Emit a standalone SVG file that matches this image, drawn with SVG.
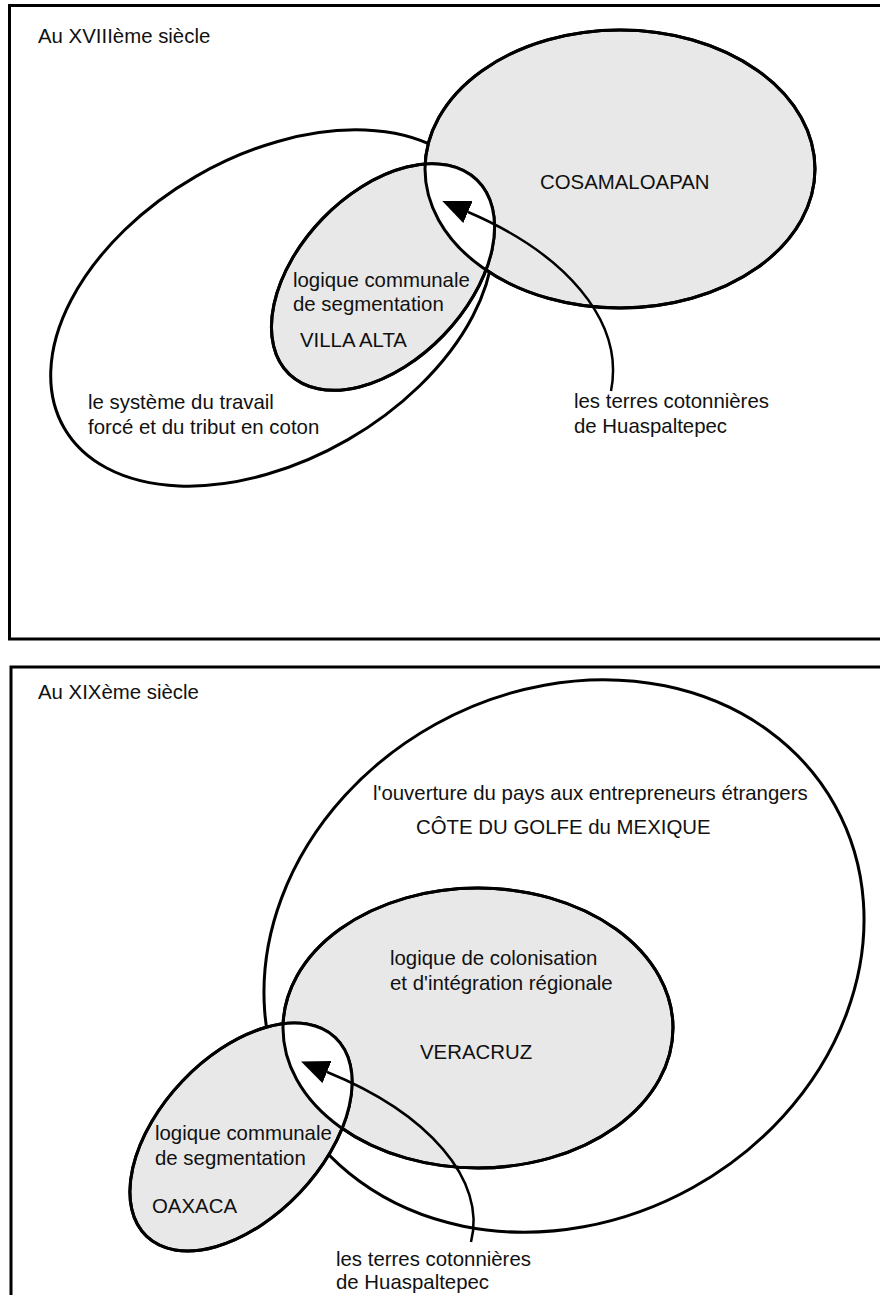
<svg xmlns="http://www.w3.org/2000/svg" xmlns:xlink="http://www.w3.org/1999/xlink" width="880" height="1295" viewBox="0 0 880 1295">
<style>
.frame{fill:#fff;stroke:#000;stroke-width:3}
.gray{fill:#e8e8e8;stroke:#000;stroke-width:3}
.out{fill:none;stroke:#000;stroke-width:3}
.lens{fill:#fff;stroke:none}
.conn{fill:none;stroke:#000;stroke-width:2.5}
text{font-family:"Liberation Sans",Arial,Helvetica,sans-serif;font-size:20.4px;fill:#111}
</style>
<defs>
<marker id="arrow" markerUnits="userSpaceOnUse" markerWidth="28" markerHeight="24" viewBox="0 0 28 24" refX="0" refY="12" orient="auto">
<path d="M0,0 L28,12 L0,24 Z" fill="#000"/>
</marker>
<ellipse id="e-cosa" cx="620" cy="169" rx="195" ry="139"/>
<ellipse id="e-villa" cx="383" cy="277" rx="135" ry="84" transform="rotate(-46 383 277)"/>
<ellipse id="e-vera" cx="478" cy="1028" rx="195" ry="140"/>
<ellipse id="e-oax" cx="241" cy="1137" rx="137" ry="81" transform="rotate(-46.5 241 1137)"/>
<clipPath id="clip-cosa"><use xlink:href="#e-cosa"/></clipPath>
<clipPath id="clip-vera"><use xlink:href="#e-vera"/></clipPath>
</defs>

<g id="panel-xviii">
<rect class="frame" x="9.5" y="5.5" width="890" height="633.5"/>
<text x="38" y="43">Au XVIIIème siècle</text>
</g>

<g id="node-systeme">
<ellipse class="out" cx="272" cy="308" rx="240" ry="152" transform="rotate(-30 272 308)"/>
<text x="88" y="409">le système du travail</text>
<text x="88" y="434">forcé et du tribut en coton</text>
</g>

<g id="node-cosamaloapan">
<use xlink:href="#e-cosa" class="gray"/>
<text x="540" y="189">COSAMALOAPAN</text>
</g>

<g id="node-villa-alta">
<use xlink:href="#e-villa" class="gray"/>
<use xlink:href="#e-villa" class="lens" clip-path="url(#clip-cosa)"/>
<use xlink:href="#e-cosa" class="out"/>
<use xlink:href="#e-villa" class="out"/>
<text x="293" y="287">logique communale</text>
<text x="293" y="311">de segmentation</text>
<text x="300" y="347">VILLA ALTA</text>
</g>

<g id="node-huaspaltepec-xviii">
<text x="574" y="408">les terres cotonnières</text>
<text x="574" y="433">de Huaspaltepec</text>
</g>

<g id="panel-xix">
<rect class="frame" x="11" y="667" width="890" height="660"/>
<text x="38" y="699">Au XIXème siècle</text>
</g>

<g id="node-cote-golfe">
<ellipse class="out" cx="564" cy="956" rx="310" ry="265" transform="rotate(-29 564 956)"/>
<text x="373" y="800">l'ouverture du pays aux entrepreneurs étrangers</text>
<text x="416" y="834">CÔTE DU GOLFE du MEXIQUE</text>
</g>

<g id="node-veracruz">
<use xlink:href="#e-vera" class="gray"/>
<text x="390" y="965">logique de colonisation</text>
<text x="390" y="990">et d'intégration régionale</text>
<text x="420" y="1059">VERACRUZ</text>
</g>

<g id="node-oaxaca">
<use xlink:href="#e-oax" class="gray"/>
<use xlink:href="#e-oax" class="lens" clip-path="url(#clip-vera)"/>
<use xlink:href="#e-vera" class="out"/>
<use xlink:href="#e-oax" class="out"/>
<text x="155" y="1140">logique communale</text>
<text x="155" y="1165">de segmentation</text>
<text x="152" y="1213">OAXACA</text>
</g>

<g id="node-huaspaltepec-xix">
<text x="336" y="1266">les terres cotonnières</text>
<text x="336" y="1289">de Huaspaltepec</text>
</g>

<g id="connectors">
<path class="conn" d="M611 391 C625 320, 564 253, 468 212" marker-end="url(#arrow)"/>
<path class="conn" d="M471 1242 C487 1180, 428 1113, 327 1072" marker-end="url(#arrow)"/>
</g>
</svg>
